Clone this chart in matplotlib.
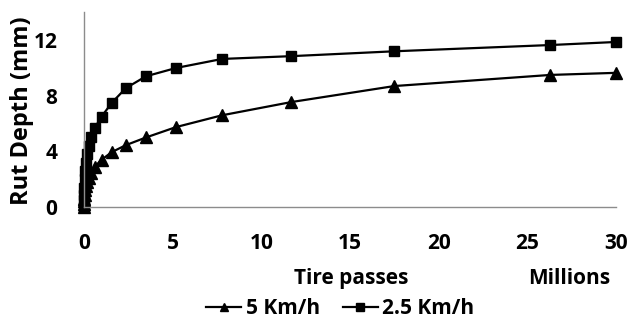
import matplotlib
matplotlib.use("Agg")
import matplotlib.pyplot as plt

# tire passes (millions)
passes = [0, 0.015, 0.023, 0.035, 0.05, 0.08, 0.12, 0.18, 0.27, 0.41, 0.62,
          1.0, 1.58, 2.37, 3.5, 5.2, 7.8, 11.7, 17.5, 26.3, 30]
# rut depth (mm)
rut_5kmh = [0, 0.2, 0.4, 0.6, 0.9, 1.2, 1.5, 1.8, 2.1, 2.45, 2.9,
            3.4, 3.95, 4.45, 5.0, 5.75, 6.6, 7.55, 8.7, 9.5, 9.65]
rut_25kmh = [0, 0.5, 0.9, 1.4, 2.0, 2.6, 3.2, 3.8, 4.4, 5.0, 5.7,
             6.5, 7.5, 8.55, 9.4, 10.0, 10.65, 10.85, 11.2, 11.65, 11.87]

xticks = [0, 5, 10, 15, 20, 25, 30]
yticks = [0, 4, 8, 12]

plt.rcParams['font.family'] = ['Open Sans', 'DejaVu Sans']
plt.rcParams['font.weight'] = 'bold'

fig = plt.figure(figsize=(6.3, 3.25), dpi=100)
ax = fig.add_axes([0.133, 0.363, 0.845, 0.599])

ax.plot(passes, rut_5kmh, color='black', lw=1.6, marker='^', ms=8,
        clip_on=False, label='5 Km/h')
ax.plot(passes, rut_25kmh, color='black', lw=1.6, marker='s', ms=6.5,
        clip_on=False, label='2.5 Km/h')

ax.set_xlim(0, 30)
ax.set_ylim(0, 14)
ax.set_xticks(xticks)
ax.set_yticks(yticks)
ax.tick_params(length=0, labelsize=15)
ax.tick_params(axis='y', pad=19)
ax.tick_params(axis='x', pad=19)
for lab in ax.get_xticklabels() + ax.get_yticklabels():
    lab.set_fontweight('bold')
for s in ['top', 'right']:
    ax.spines[s].set_visible(False)
for s in ['left', 'bottom']:
    ax.spines[s].set_color('#8c8c8c')
    ax.spines[s].set_linewidth(1.0)

fig.text(0.035, 0.66, 'Rut Depth (mm)', rotation=90, ha='center', va='center',
         fontsize=17, fontweight='bold')

fig.text(0.557, 0.142, 'Tire passes', ha='center', va='center', fontsize=15, fontweight='bold')
fig.text(0.903, 0.142, 'Millions', ha='center', va='center', fontsize=15, fontweight='bold')

fig.legend(loc='center', bbox_to_anchor=(0.54, 0.05), ncol=2, frameon=False,
           handlelength=1.7, handletextpad=0.2, columnspacing=1.1,
           numpoints=1, markerscale=0.8, prop={'weight': 'bold', 'size': 15})

fig.savefig('out.png', dpi=100)
